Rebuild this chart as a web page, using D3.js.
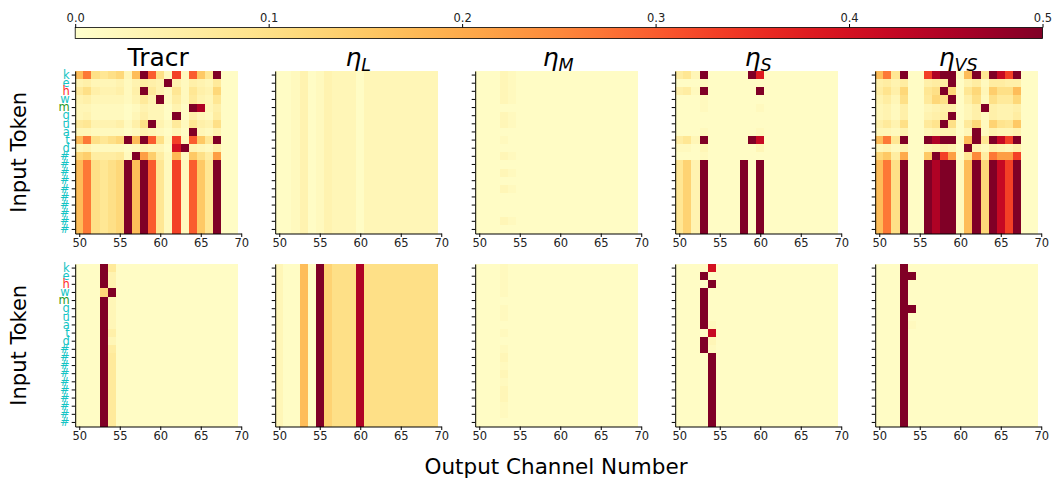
<!DOCTYPE html>
<html><head><meta charset="utf-8">
<script src="https://cdn.jsdelivr.net/npm/d3@7"></script>
<style>
body{margin:0;background:#fff;}
text{font-family:"DejaVu Sans",sans-serif;}
</style></head>
<body><svg id="c" width="1053" height="483"></svg>
<script>
// ---------- data ----------
const channels = d3.range(50, 70);             // output channels 50..69
const tokens = ["k","e","h","w","m","g","u","a","t","d","#","#","#","#","#","#","#","#","#","#"];
const tokenColors = ["c","c","r","c","g","c","c","c","c","c","c","c","c","c","c","c","c","c","c","c"];
const panelTitles = [["Tracr",null],["η","L"],["η","M"],["η","S"],["η","VS"]];
const xTicks = [50,55,60,65,70];
const cbTicks = [0,0.1,0.2,0.3,0.4,0.5];

// top row
const tracrTop = [
[.17,.27,.10,.08,.10,.12,.03,.17,.50,.30,.10,.02,.33,.02,.30,.15,.08,.50,.01,.01],
[.04,.05,.03,.03,.03,.04,.02,.04,.06,.05,.04,.50,.04,.02,.05,.04,.03,.07,.01,.01],
[.07,.10,.05,.04,.04,.05,.02,.05,.50,.07,.04,.02,.08,.02,.08,.05,.04,.12,.01,.01],
[.04,.05,.03,.03,.03,.03,.02,.04,.07,.04,.50,.02,.06,.02,.07,.04,.03,.08,.01,.01],
[.03,.03,.02,.02,.02,.02,.01,.02,.04,.03,.03,.01,.04,.01,.50,.45,.03,.05,.01,.01],
[.03,.04,.02,.02,.02,.02,.01,.03,.05,.03,.03,.01,.50,.01,.05,.03,.02,.06,.01,.01],
[.07,.08,.04,.04,.04,.05,.02,.05,.10,.50,.04,.02,.07,.02,.08,.05,.04,.10,.01,.01],
[.03,.03,.02,.02,.02,.02,.01,.02,.04,.03,.02,.01,.03,.01,.50,.03,.02,.04,.01,.01],
[.17,.27,.10,.08,.10,.12,.50,.17,.50,.30,.10,.02,.33,.02,.30,.15,.08,.50,.01,.01],
[.03,.04,.02,.02,.02,.02,.01,.02,.04,.03,.03,.01,.40,.50,.04,.03,.02,.05,.01,.01],
[.12,.14,.06,.06,.06,.07,.02,.50,.22,.14,.06,.02,.18,.02,.15,.10,.06,.22,.01,.01],
[.17,.27,.10,.08,.10,.12,.50,.17,.50,.30,.08,.02,.33,.02,.30,.15,.08,.50,.01,.01],
[.17,.27,.10,.08,.10,.12,.50,.17,.50,.30,.08,.02,.33,.02,.30,.15,.08,.50,.01,.01],
[.17,.27,.10,.08,.10,.12,.50,.17,.50,.30,.08,.02,.33,.02,.30,.15,.08,.50,.01,.01],
[.17,.27,.10,.08,.10,.12,.50,.17,.50,.30,.08,.02,.33,.02,.30,.15,.08,.50,.01,.01],
[.17,.27,.10,.08,.10,.12,.50,.17,.50,.30,.08,.02,.33,.02,.30,.15,.08,.50,.01,.01],
[.17,.27,.10,.08,.10,.12,.50,.17,.50,.30,.08,.02,.33,.02,.30,.15,.08,.50,.01,.01],
[.17,.27,.10,.08,.10,.12,.50,.17,.50,.30,.08,.02,.33,.02,.30,.15,.08,.50,.01,.01],
[.17,.27,.10,.08,.10,.12,.50,.17,.50,.30,.08,.02,.33,.02,.30,.15,.08,.50,.01,.01],
[.17,.27,.10,.08,.10,.12,.50,.17,.50,.30,.08,.02,.33,.02,.30,.15,.08,.50,.01,.01]];

const etaLTop = [
[.01,.01,.02,.04,.01,.02,.04,.03,.03,.03,.01,.03,.03,.03,.03,.03,.03,.03,.03,.03],
[.01,.01,.02,.04,.01,.02,.04,.03,.03,.03,.01,.03,.03,.03,.03,.03,.03,.03,.03,.03],
[.01,.01,.02,.04,.01,.02,.04,.03,.03,.03,.01,.03,.03,.03,.03,.03,.03,.03,.03,.03],
[.01,.01,.02,.04,.01,.02,.04,.03,.03,.03,.01,.03,.03,.03,.03,.03,.03,.03,.03,.03],
[.01,.01,.02,.04,.01,.02,.04,.03,.03,.03,.01,.03,.03,.03,.03,.03,.03,.03,.03,.03],
[.01,.01,.02,.04,.01,.02,.04,.03,.03,.03,.01,.03,.03,.03,.03,.03,.03,.03,.03,.03],
[.01,.01,.02,.04,.01,.02,.04,.03,.03,.03,.01,.03,.03,.03,.03,.03,.03,.03,.03,.03],
[.01,.01,.02,.04,.01,.02,.04,.03,.03,.03,.01,.03,.03,.03,.03,.03,.03,.03,.03,.03],
[.01,.01,.02,.04,.01,.02,.04,.03,.03,.03,.01,.03,.03,.03,.03,.03,.03,.03,.03,.03],
[.01,.01,.02,.04,.01,.02,.04,.03,.03,.03,.01,.03,.03,.03,.03,.03,.03,.03,.03,.03],
[.01,.01,.02,.04,.01,.02,.04,.03,.03,.03,.01,.03,.03,.03,.03,.03,.03,.03,.03,.03],
[.01,.01,.02,.04,.01,.02,.04,.03,.03,.03,.01,.03,.03,.03,.03,.03,.03,.03,.03,.03],
[.01,.01,.02,.04,.01,.02,.04,.03,.03,.03,.01,.03,.03,.03,.03,.03,.03,.03,.03,.03],
[.01,.01,.02,.04,.01,.02,.04,.03,.03,.03,.01,.03,.03,.03,.03,.03,.03,.03,.03,.03],
[.01,.01,.02,.04,.01,.02,.04,.03,.03,.03,.01,.03,.03,.03,.03,.03,.03,.03,.03,.03],
[.01,.01,.02,.04,.01,.02,.04,.03,.03,.03,.01,.03,.03,.03,.03,.03,.03,.03,.03,.03],
[.01,.01,.02,.04,.01,.02,.04,.03,.03,.03,.01,.03,.03,.03,.03,.03,.03,.03,.03,.03],
[.01,.01,.02,.04,.01,.02,.04,.03,.03,.03,.01,.03,.03,.03,.03,.03,.03,.03,.03,.03],
[.01,.01,.02,.04,.01,.02,.04,.03,.03,.03,.01,.03,.03,.03,.03,.03,.03,.03,.03,.03],
[.01,.01,.02,.04,.01,.02,.04,.03,.03,.03,.01,.03,.03,.03,.03,.03,.03,.03,.03,.03]];

const etaMTop = [
[.01,.01,.01,.03,.02,.01,.01,.01,.01,.01,.01,.01,.01,.01,.01,.01,.01,.01,.01,.01],
[.01,.01,.01,.03,.02,.01,.01,.01,.01,.01,.01,.01,.01,.01,.01,.01,.01,.01,.01,.01],
[.01,.01,.01,.03,.02,.01,.01,.01,.01,.01,.01,.01,.01,.01,.01,.01,.01,.01,.01,.01],
[.01,.01,.01,.03,.02,.01,.01,.01,.01,.01,.01,.01,.01,.01,.01,.01,.01,.01,.01,.01],
[.01,.01,.01,.01,.01,.01,.01,.01,.01,.01,.01,.01,.01,.01,.01,.01,.01,.01,.01,.01],
[.01,.01,.01,.03,.02,.01,.01,.01,.01,.01,.01,.01,.01,.01,.01,.01,.01,.01,.01,.01],
[.01,.01,.01,.03,.02,.01,.01,.01,.01,.01,.01,.01,.01,.01,.01,.01,.01,.01,.01,.01],
[.01,.01,.01,.01,.01,.01,.01,.01,.01,.01,.01,.01,.01,.01,.01,.01,.01,.01,.01,.01],
[.01,.01,.01,.02,.01,.01,.01,.01,.01,.01,.01,.01,.01,.01,.01,.01,.01,.01,.01,.01],
[.01,.01,.01,.01,.01,.01,.01,.01,.01,.01,.01,.01,.01,.01,.01,.01,.01,.01,.01,.01],
[.01,.01,.01,.03,.02,.01,.01,.01,.01,.01,.01,.01,.01,.01,.01,.01,.01,.01,.01,.01],
[.01,.01,.01,.01,.01,.01,.01,.01,.01,.01,.01,.01,.01,.01,.01,.01,.01,.01,.01,.01],
[.01,.01,.01,.03,.02,.01,.01,.01,.01,.01,.01,.01,.01,.01,.01,.01,.01,.01,.01,.01],
[.01,.01,.01,.01,.01,.01,.01,.01,.01,.01,.01,.01,.01,.01,.01,.01,.01,.01,.01,.01],
[.01,.01,.01,.03,.02,.01,.01,.01,.01,.01,.01,.01,.01,.01,.01,.01,.01,.01,.01,.01],
[.01,.01,.01,.01,.01,.01,.01,.01,.01,.01,.01,.01,.01,.01,.01,.01,.01,.01,.01,.01],
[.01,.01,.01,.01,.01,.01,.01,.01,.01,.01,.01,.01,.01,.01,.01,.01,.01,.01,.01,.01],
[.01,.01,.01,.01,.01,.01,.01,.01,.01,.01,.01,.01,.01,.01,.01,.01,.01,.01,.01,.01],
[.01,.01,.01,.03,.02,.01,.01,.01,.01,.01,.01,.01,.01,.01,.01,.01,.01,.01,.01,.01],
[.01,.01,.01,.01,.01,.01,.01,.01,.01,.01,.01,.01,.01,.01,.01,.01,.01,.01,.01,.01]];

const etaSTop = [
[.06,.08,.03,.50,.01,.01,.01,.01,.01,.50,.38,.01,.01,.01,.01,.01,.01,.01,.01,.01],
[.01,.01,.01,.02,.01,.01,.01,.01,.01,.01,.01,.01,.01,.01,.01,.01,.01,.01,.01,.01],
[.05,.06,.02,.50,.01,.01,.01,.01,.01,.01,.50,.01,.01,.01,.01,.01,.01,.01,.01,.01],
[.01,.01,.01,.02,.01,.01,.01,.01,.01,.01,.01,.01,.01,.01,.01,.01,.01,.01,.01,.01],
[.01,.01,.01,.02,.01,.01,.01,.01,.01,.01,.02,.01,.01,.01,.01,.01,.01,.01,.01,.01],
[.01,.01,.01,.01,.01,.01,.01,.01,.01,.01,.01,.01,.01,.01,.01,.01,.01,.01,.01,.01],
[.01,.01,.01,.01,.01,.01,.01,.01,.01,.01,.01,.01,.01,.01,.01,.01,.01,.01,.01,.01],
[.01,.01,.01,.02,.01,.01,.01,.01,.01,.01,.02,.01,.01,.01,.01,.01,.01,.01,.01,.01],
[.06,.08,.03,.50,.01,.01,.01,.01,.01,.50,.42,.01,.01,.01,.01,.01,.01,.01,.01,.01],
[.02,.02,.01,.03,.01,.01,.01,.01,.01,.01,.03,.01,.01,.01,.01,.01,.01,.01,.01,.01],
[.01,.01,.01,.02,.01,.01,.01,.01,.01,.01,.01,.01,.01,.01,.01,.01,.01,.01,.01,.01],
[.08,.13,.04,.50,.01,.01,.01,.01,.50,.01,.50,.01,.01,.01,.01,.01,.01,.01,.01,.01],
[.08,.13,.04,.50,.01,.01,.01,.01,.50,.01,.50,.01,.01,.01,.01,.01,.01,.01,.01,.01],
[.08,.13,.04,.50,.01,.01,.01,.01,.50,.01,.50,.01,.01,.01,.01,.01,.01,.01,.01,.01],
[.08,.13,.04,.50,.01,.01,.01,.01,.50,.01,.50,.01,.01,.01,.01,.01,.01,.01,.01,.01],
[.08,.13,.04,.50,.01,.01,.01,.01,.50,.01,.50,.01,.01,.01,.01,.01,.01,.01,.01,.01],
[.08,.13,.04,.50,.01,.01,.01,.01,.50,.01,.50,.01,.01,.01,.01,.01,.01,.01,.01,.01],
[.08,.13,.04,.50,.01,.01,.01,.01,.50,.01,.50,.01,.01,.01,.01,.01,.01,.01,.01,.01],
[.08,.13,.04,.50,.01,.01,.01,.01,.50,.01,.50,.01,.01,.01,.01,.01,.01,.01,.01,.01],
[.08,.13,.04,.50,.01,.01,.01,.01,.50,.01,.50,.01,.01,.01,.01,.01,.01,.01,.01,.01]];

const etaVSTop = [
[.17,.27,.08,.50,.01,.01,.33,.45,.50,.50,.02,.17,.50,.08,.50,.42,.33,.50,.01,.01],
[.05,.06,.04,.06,.01,.01,.05,.06,.06,.50,.01,.04,.06,.02,.06,.06,.05,.05,.01,.01],
[.06,.09,.05,.12,.01,.01,.08,.10,.50,.12,.01,.08,.12,.03,.14,.10,.10,.17,.01,.01],
[.04,.06,.03,.10,.01,.01,.07,.12,.10,.50,.01,.05,.10,.02,.10,.07,.07,.12,.01,.01],
[.03,.04,.02,.05,.01,.01,.03,.04,.05,.05,.01,.03,.05,.50,.05,.04,.04,.05,.01,.01],
[.03,.04,.02,.05,.01,.01,.04,.05,.06,.50,.01,.03,.05,.02,.05,.04,.04,.06,.01,.01],
[.05,.07,.04,.10,.01,.01,.07,.09,.50,.10,.01,.07,.12,.02,.13,.09,.08,.15,.01,.01],
[.03,.03,.02,.04,.01,.01,.03,.04,.04,.04,.01,.03,.50,.02,.04,.03,.03,.04,.01,.01],
[.17,.27,.08,.50,.01,.01,.50,.45,.50,.50,.02,.17,.50,.08,.50,.42,.33,.50,.01,.01],
[.03,.04,.02,.04,.01,.01,.03,.04,.05,.04,.01,.50,.04,.02,.05,.04,.03,.05,.01,.01],
[.12,.15,.06,.20,.01,.01,.15,.50,.33,.22,.01,.08,.25,.06,.27,.22,.22,.33,.01,.01],
[.17,.27,.10,.50,.01,.01,.50,.45,.50,.50,.02,.17,.50,.12,.50,.42,.33,.50,.01,.01],
[.17,.27,.10,.50,.01,.01,.50,.45,.50,.50,.02,.17,.50,.12,.50,.42,.33,.50,.01,.01],
[.17,.27,.10,.50,.01,.01,.50,.45,.50,.50,.02,.17,.50,.12,.50,.42,.33,.50,.01,.01],
[.17,.27,.10,.50,.01,.01,.50,.45,.50,.50,.02,.17,.50,.12,.50,.42,.33,.50,.01,.01],
[.17,.27,.10,.50,.01,.01,.50,.45,.50,.50,.02,.17,.50,.12,.50,.42,.33,.50,.01,.01],
[.17,.27,.10,.50,.01,.01,.50,.45,.50,.50,.02,.17,.50,.12,.50,.42,.33,.50,.01,.01],
[.17,.27,.10,.50,.01,.01,.50,.45,.50,.50,.02,.17,.50,.12,.50,.42,.33,.50,.01,.01],
[.17,.27,.10,.50,.01,.01,.50,.45,.50,.50,.02,.17,.50,.12,.50,.42,.33,.50,.01,.01],
[.17,.27,.10,.50,.01,.01,.50,.45,.50,.50,.02,.17,.50,.12,.50,.42,.33,.50,.01,.01]];

// bottom row
const tracrBot = [
[.01,.01,.01,.50,.07,.01,.01,.01,.01,.01,.01,.01,.01,.01,.01,.01,.01,.01,.01,.01],
[.01,.01,.01,.50,.04,.01,.01,.01,.01,.01,.01,.01,.01,.01,.01,.01,.01,.01,.01,.01],
[.01,.01,.01,.50,.04,.01,.01,.01,.01,.01,.01,.01,.01,.01,.01,.01,.01,.01,.01,.01],
[.01,.01,.01,.12,.50,.01,.01,.01,.01,.01,.01,.01,.01,.01,.01,.01,.01,.01,.01,.01],
[.01,.01,.01,.50,.03,.01,.01,.01,.01,.01,.01,.01,.01,.01,.01,.01,.01,.01,.01,.01],
[.01,.01,.01,.50,.03,.01,.01,.01,.01,.01,.01,.01,.01,.01,.01,.01,.01,.01,.01,.01],
[.01,.01,.01,.50,.03,.01,.01,.01,.01,.01,.01,.01,.01,.01,.01,.01,.01,.01,.01,.01],
[.01,.01,.01,.50,.03,.01,.01,.01,.01,.01,.01,.01,.01,.01,.01,.01,.01,.01,.01,.01],
[.01,.01,.01,.50,.05,.01,.01,.01,.01,.01,.01,.01,.01,.01,.01,.01,.01,.01,.01,.01],
[.01,.01,.01,.50,.03,.01,.01,.01,.01,.01,.01,.01,.01,.01,.01,.01,.01,.01,.01,.01],
[.01,.01,.01,.50,.06,.01,.01,.01,.01,.01,.01,.01,.01,.01,.01,.01,.01,.01,.01,.01],
[.01,.01,.01,.50,.07,.01,.01,.01,.01,.01,.01,.01,.01,.01,.01,.01,.01,.01,.01,.01],
[.01,.01,.01,.50,.07,.01,.01,.01,.01,.01,.01,.01,.01,.01,.01,.01,.01,.01,.01,.01],
[.01,.01,.01,.50,.07,.01,.01,.01,.01,.01,.01,.01,.01,.01,.01,.01,.01,.01,.01,.01],
[.01,.01,.01,.50,.07,.01,.01,.01,.01,.01,.01,.01,.01,.01,.01,.01,.01,.01,.01,.01],
[.01,.01,.01,.50,.07,.01,.01,.01,.01,.01,.01,.01,.01,.01,.01,.01,.01,.01,.01,.01],
[.01,.01,.01,.50,.07,.01,.01,.01,.01,.01,.01,.01,.01,.01,.01,.01,.01,.01,.01,.01],
[.01,.01,.01,.50,.07,.01,.01,.01,.01,.01,.01,.01,.01,.01,.01,.01,.01,.01,.01,.01],
[.01,.01,.01,.50,.07,.01,.01,.01,.01,.01,.01,.01,.01,.01,.01,.01,.01,.01,.01,.01],
[.01,.01,.01,.50,.07,.01,.01,.01,.01,.01,.01,.01,.01,.01,.01,.01,.01,.01,.01,.01]];

const etaLBot = [
[.03,.01,.01,.17,.01,.50,.13,.10,.10,.10,.45,.10,.10,.10,.10,.10,.10,.10,.10,.10],
[.03,.01,.01,.17,.01,.50,.13,.10,.10,.10,.45,.10,.10,.10,.10,.10,.10,.10,.10,.10],
[.03,.01,.01,.17,.01,.50,.13,.10,.10,.10,.45,.10,.10,.10,.10,.10,.10,.10,.10,.10],
[.03,.01,.01,.17,.01,.50,.13,.10,.10,.10,.45,.10,.10,.10,.10,.10,.10,.10,.10,.10],
[.03,.01,.01,.17,.01,.50,.13,.10,.10,.10,.45,.10,.10,.10,.10,.10,.10,.10,.10,.10],
[.03,.01,.01,.17,.01,.50,.13,.10,.10,.10,.45,.10,.10,.10,.10,.10,.10,.10,.10,.10],
[.03,.01,.01,.17,.01,.50,.13,.10,.10,.10,.45,.10,.10,.10,.10,.10,.10,.10,.10,.10],
[.03,.01,.01,.17,.01,.50,.13,.10,.10,.10,.45,.10,.10,.10,.10,.10,.10,.10,.10,.10],
[.03,.01,.01,.17,.01,.50,.13,.10,.10,.10,.45,.10,.10,.10,.10,.10,.10,.10,.10,.10],
[.03,.01,.01,.17,.01,.50,.13,.10,.10,.10,.45,.10,.10,.10,.10,.10,.10,.10,.10,.10],
[.03,.01,.01,.17,.01,.50,.13,.10,.10,.10,.45,.10,.10,.10,.10,.10,.10,.10,.10,.10],
[.03,.01,.01,.17,.01,.50,.13,.10,.10,.10,.45,.10,.10,.10,.10,.10,.10,.10,.10,.10],
[.03,.01,.01,.17,.01,.50,.13,.10,.10,.10,.45,.10,.10,.10,.10,.10,.10,.10,.10,.10],
[.03,.01,.01,.17,.01,.50,.13,.10,.10,.10,.45,.10,.10,.10,.10,.10,.10,.10,.10,.10],
[.03,.01,.01,.17,.01,.50,.13,.10,.10,.10,.45,.10,.10,.10,.10,.10,.10,.10,.10,.10],
[.03,.01,.01,.17,.01,.50,.13,.10,.10,.10,.45,.10,.10,.10,.10,.10,.10,.10,.10,.10],
[.03,.01,.01,.17,.01,.50,.13,.10,.10,.10,.45,.10,.10,.10,.10,.10,.10,.10,.10,.10],
[.03,.01,.01,.17,.01,.50,.13,.10,.10,.10,.45,.10,.10,.10,.10,.10,.10,.10,.10,.10],
[.03,.01,.01,.17,.01,.50,.13,.10,.10,.10,.45,.10,.10,.10,.10,.10,.10,.10,.10,.10],
[.03,.01,.01,.17,.01,.50,.13,.10,.10,.10,.45,.10,.10,.10,.10,.10,.10,.10,.10,.10]];

const etaMBot = [
[.01,.01,.01,.02,.01,.01,.01,.01,.01,.01,.01,.01,.01,.01,.01,.01,.01,.01,.01,.01],
[.01,.01,.01,.02,.01,.01,.01,.01,.01,.01,.01,.01,.01,.01,.01,.01,.01,.01,.01,.01],
[.01,.01,.01,.02,.01,.01,.01,.01,.01,.01,.01,.01,.01,.01,.01,.01,.01,.01,.01,.01],
[.01,.01,.01,.02,.01,.01,.01,.01,.01,.01,.01,.01,.01,.01,.01,.01,.01,.01,.01,.01],
[.01,.01,.01,.01,.01,.01,.01,.01,.01,.01,.01,.01,.01,.01,.01,.01,.01,.01,.01,.01],
[.01,.01,.01,.02,.01,.01,.01,.01,.01,.01,.01,.01,.01,.01,.01,.01,.01,.01,.01,.01],
[.01,.01,.01,.02,.01,.01,.01,.01,.01,.01,.01,.01,.01,.01,.01,.01,.01,.01,.01,.01],
[.01,.01,.01,.01,.01,.01,.01,.01,.01,.01,.01,.01,.01,.01,.01,.01,.01,.01,.01,.01],
[.01,.01,.01,.02,.01,.01,.01,.01,.01,.01,.01,.01,.01,.01,.01,.01,.01,.01,.01,.01],
[.01,.01,.01,.01,.01,.01,.01,.01,.01,.01,.01,.01,.01,.01,.01,.01,.01,.01,.01,.01],
[.01,.01,.01,.02,.01,.01,.01,.01,.01,.01,.01,.01,.01,.01,.01,.01,.01,.01,.01,.01],
[.01,.01,.01,.03,.01,.01,.01,.01,.01,.01,.01,.01,.01,.01,.01,.01,.01,.01,.01,.01],
[.01,.01,.01,.02,.01,.01,.01,.01,.01,.01,.01,.01,.01,.01,.01,.01,.01,.01,.01,.01],
[.01,.01,.01,.03,.01,.01,.01,.01,.01,.01,.01,.01,.01,.01,.01,.01,.01,.01,.01,.01],
[.01,.01,.01,.02,.01,.01,.01,.01,.01,.01,.01,.01,.01,.01,.01,.01,.01,.01,.01,.01],
[.01,.01,.01,.03,.01,.01,.01,.01,.01,.01,.01,.01,.01,.01,.01,.01,.01,.01,.01,.01],
[.01,.01,.01,.03,.01,.01,.01,.01,.01,.01,.01,.01,.01,.01,.01,.01,.01,.01,.01,.01],
[.01,.01,.01,.02,.01,.01,.01,.01,.01,.01,.01,.01,.01,.01,.01,.01,.01,.01,.01,.01],
[.01,.01,.01,.02,.01,.01,.01,.01,.01,.01,.01,.01,.01,.01,.01,.01,.01,.01,.01,.01],
[.01,.01,.01,.01,.01,.01,.01,.01,.01,.01,.01,.01,.01,.01,.01,.01,.01,.01,.01,.01]];

const etaSBot = [
[.01,.01,.01,.01,.40,.01,.01,.01,.01,.01,.01,.01,.01,.01,.01,.01,.01,.01,.01,.01],
[.01,.01,.01,.50,.01,.01,.01,.01,.01,.01,.01,.01,.01,.01,.01,.01,.01,.01,.01,.01],
[.01,.01,.01,.01,.50,.01,.01,.01,.01,.01,.01,.01,.01,.01,.01,.01,.01,.01,.01,.01],
[.01,.01,.01,.50,.01,.01,.01,.01,.01,.01,.01,.01,.01,.01,.01,.01,.01,.01,.01,.01],
[.01,.01,.01,.50,.01,.01,.01,.01,.01,.01,.01,.01,.01,.01,.01,.01,.01,.01,.01,.01],
[.01,.01,.01,.50,.01,.01,.01,.01,.01,.01,.01,.01,.01,.01,.01,.01,.01,.01,.01,.01],
[.01,.01,.01,.50,.01,.01,.01,.01,.01,.01,.01,.01,.01,.01,.01,.01,.01,.01,.01,.01],
[.01,.01,.01,.50,.02,.01,.01,.01,.01,.01,.01,.01,.01,.01,.01,.01,.01,.01,.01,.01],
[.01,.01,.01,.01,.42,.01,.01,.01,.01,.01,.01,.01,.01,.01,.01,.01,.01,.01,.01,.01],
[.01,.01,.01,.50,.03,.01,.01,.01,.01,.01,.01,.01,.01,.01,.01,.01,.01,.01,.01,.01],
[.01,.01,.01,.50,.02,.01,.01,.01,.01,.01,.01,.01,.01,.01,.01,.01,.01,.01,.01,.01],
[.01,.01,.01,.01,.50,.01,.01,.01,.01,.01,.01,.01,.01,.01,.01,.01,.01,.01,.01,.01],
[.01,.01,.01,.01,.50,.01,.01,.01,.01,.01,.01,.01,.01,.01,.01,.01,.01,.01,.01,.01],
[.01,.01,.01,.01,.50,.01,.01,.01,.01,.01,.01,.01,.01,.01,.01,.01,.01,.01,.01,.01],
[.01,.01,.01,.01,.50,.01,.01,.01,.01,.01,.01,.01,.01,.01,.01,.01,.01,.01,.01,.01],
[.01,.01,.01,.01,.50,.01,.01,.01,.01,.01,.01,.01,.01,.01,.01,.01,.01,.01,.01,.01],
[.01,.01,.01,.01,.50,.01,.01,.01,.01,.01,.01,.01,.01,.01,.01,.01,.01,.01,.01,.01],
[.01,.01,.01,.01,.50,.01,.01,.01,.01,.01,.01,.01,.01,.01,.01,.01,.01,.01,.01,.01],
[.01,.01,.01,.01,.50,.01,.01,.01,.01,.01,.01,.01,.01,.01,.01,.01,.01,.01,.01,.01],
[.01,.01,.01,.01,.50,.01,.01,.01,.01,.01,.01,.01,.01,.01,.01,.01,.01,.01,.01,.01]];

const etaVSBot = [
[.01,.01,.01,.50,.01,.01,.01,.01,.01,.01,.01,.01,.01,.01,.01,.01,.01,.01,.01,.01],
[.01,.01,.01,.50,.50,.01,.01,.01,.01,.01,.01,.01,.01,.01,.01,.01,.01,.01,.01,.01],
[.01,.01,.01,.50,.01,.01,.01,.01,.01,.01,.01,.01,.01,.01,.01,.01,.01,.01,.01,.01],
[.01,.01,.01,.50,.01,.01,.01,.01,.01,.01,.01,.01,.01,.01,.01,.01,.01,.01,.01,.01],
[.01,.01,.01,.50,.01,.01,.01,.01,.01,.01,.01,.01,.01,.01,.01,.01,.01,.01,.01,.01],
[.01,.01,.01,.50,.50,.01,.01,.01,.01,.01,.01,.01,.01,.01,.01,.01,.01,.01,.01,.01],
[.01,.01,.01,.50,.01,.01,.01,.01,.01,.01,.01,.01,.01,.01,.01,.01,.01,.01,.01,.01],
[.01,.01,.01,.50,.02,.01,.01,.01,.01,.01,.01,.01,.01,.01,.01,.01,.01,.01,.01,.01],
[.01,.01,.01,.50,.01,.01,.01,.01,.01,.01,.01,.01,.01,.01,.01,.01,.01,.01,.01,.01],
[.01,.01,.01,.50,.01,.01,.01,.01,.01,.01,.01,.01,.01,.01,.01,.01,.01,.01,.01,.01],
[.01,.01,.01,.50,.01,.01,.01,.01,.01,.01,.01,.01,.01,.01,.01,.01,.01,.01,.01,.01],
[.01,.01,.01,.50,.01,.01,.01,.01,.01,.01,.01,.01,.01,.01,.01,.01,.01,.01,.01,.01],
[.01,.01,.01,.50,.01,.01,.01,.01,.01,.01,.01,.01,.01,.01,.01,.01,.01,.01,.01,.01],
[.01,.01,.01,.50,.01,.01,.01,.01,.01,.01,.01,.01,.01,.01,.01,.01,.01,.01,.01,.01],
[.01,.01,.01,.50,.01,.01,.01,.01,.01,.01,.01,.01,.01,.01,.01,.01,.01,.01,.01,.01],
[.01,.01,.01,.50,.01,.01,.01,.01,.01,.01,.01,.01,.01,.01,.01,.01,.01,.01,.01,.01],
[.01,.01,.01,.50,.01,.01,.01,.01,.01,.01,.01,.01,.01,.01,.01,.01,.01,.01,.01,.01],
[.01,.01,.01,.50,.01,.01,.01,.01,.01,.01,.01,.01,.01,.01,.01,.01,.01,.01,.01,.01],
[.01,.01,.01,.50,.01,.01,.01,.01,.01,.01,.01,.01,.01,.01,.01,.01,.01,.01,.01,.01],
[.01,.01,.01,.50,.01,.01,.01,.01,.01,.01,.01,.01,.01,.01,.01,.01,.01,.01,.01,.01]];

const gridRows = [
  [tracrTop, etaLTop, etaMTop, etaSTop, etaVSTop],
  [tracrBot, etaLBot, etaMBot, etaSBot, etaVSBot]
];

// ---------- drawing ----------
const svg = d3.select("#c");
const colorMap = {c:"#14c4c4", r:"#ff2a2a", g:"#1f9a1f"};
const color = d3.scaleSequential(d3.interpolateYlOrRd).domain([0, 0.5]);

const panelLeft0 = 75.2, panelStep = 200, unit = 8.1;
const rowTop = [71, 264], rowH = 162.5;

gridRows.forEach((row, ri) => {
  row.forEach((mat, ci) => {
    const left = panelLeft0 + panelStep * ci;
    const x = d3.scaleLinear().domain([49.5, 70]).range([left, left + 20.5 * unit]);
    const y = d3.scaleBand().domain(d3.range(tokens.length)).range([rowTop[ri], rowTop[ri] + rowH]);
    const g = svg.append("g");
    const cells = [];
    mat.forEach((r, yi) => r.forEach((v, xi) => cells.push({yi, ch: channels[xi], v})));
    g.selectAll("rect").data(cells).join("rect")
      .attr("x", d => x(d.ch - 0.5))
      .attr("width", d => x(d.ch + 0.5) - x(d.ch - 0.5) + 0.3)
      .attr("y", d => y(d.yi))
      .attr("height", y.bandwidth() + 0.3)
      .attr("fill", d => color(d.v))
      .attr("shape-rendering", "crispEdges");

    const bottom = rowTop[ri] + rowH;
    const xa = svg.append("g").attr("transform", `translate(0,${bottom})`)
      .call(d3.axisBottom(x).tickValues(xTicks).tickSize(3.5).tickSizeOuter(0).tickPadding(2));
    xa.selectAll("text").attr("font-size", 11.5).attr("fill", "#222").attr("font-family", "DejaVu Sans");
    xa.select(".domain").attr("stroke", "#000").attr("stroke-width", 1);

    const ya = svg.append("g").attr("transform", `translate(${left},0)`)
      .call(d3.axisLeft(y).tickSize(3.5).tickSizeOuter(0).tickPadding(2)
        .tickFormat(ci === 0 ? (i => tokens[i]) : () => ""));
    ya.selectAll("text").attr("font-size", 11.5).attr("font-family", "DejaVu Sans")
      .attr("fill", i => colorMap[tokenColors[i]]);
    ya.select(".domain").attr("stroke", "#000").attr("stroke-width", 1);

    if (ri === 0) {
      const t = panelTitles[ci];
      const tt = svg.append("text").attr("x", left + 83).attr("y", 66)
        .attr("text-anchor", "middle").attr("font-size", 25).attr("fill", "#000");
      if (t[1] === null) {
        tt.text(t[0]);
      } else {
        tt.append("tspan").attr("font-style", "italic").text(t[0]);
        tt.append("tspan").attr("font-style", "italic").attr("font-size", 17.5)
          .attr("dy", 5).text(t[1]);
      }
    }
  });
});

// y labels
rowTop.forEach(t => {
  svg.append("text").attr("transform", `translate(26,${t + rowH / 2}) rotate(-90)`)
    .attr("text-anchor", "middle").attr("font-size", 21).attr("fill", "#000").text("Input Token");
});
// x label
svg.append("text").attr("x", 556).attr("y", 474).attr("text-anchor", "middle")
  .attr("font-size", 21.5).attr("fill", "#000").text("Output Channel Number");

// colorbar
const cbX0 = 75.2, cbX1 = 1042.5, cbY = 27.5, cbH = 11;
const defs = svg.append("defs");
const grad = defs.append("linearGradient").attr("id", "cbg");
d3.range(0, 1.0001, 0.02).forEach(p => {
  grad.append("stop").attr("offset", p).attr("stop-color", color(p * 0.5));
});
svg.append("rect").attr("x", cbX0).attr("y", cbY).attr("width", cbX1 - cbX0).attr("height", cbH)
  .attr("fill", "url(#cbg)").attr("stroke", "#000").attr("stroke-width", 0.8);
const cbScale = d3.scaleLinear().domain([0, 0.5]).range([cbX0, cbX1]);
const cba = svg.append("g").attr("transform", `translate(0,${cbY})`)
  .call(d3.axisTop(cbScale).tickValues(cbTicks).tickFormat(d3.format(".1f")).tickSize(3.5).tickSizeOuter(0).tickPadding(2));
cba.select(".domain").remove();
cba.selectAll("text").attr("font-size", 11.5).attr("fill", "#222").attr("font-family", "DejaVu Sans");
</script></body></html>
